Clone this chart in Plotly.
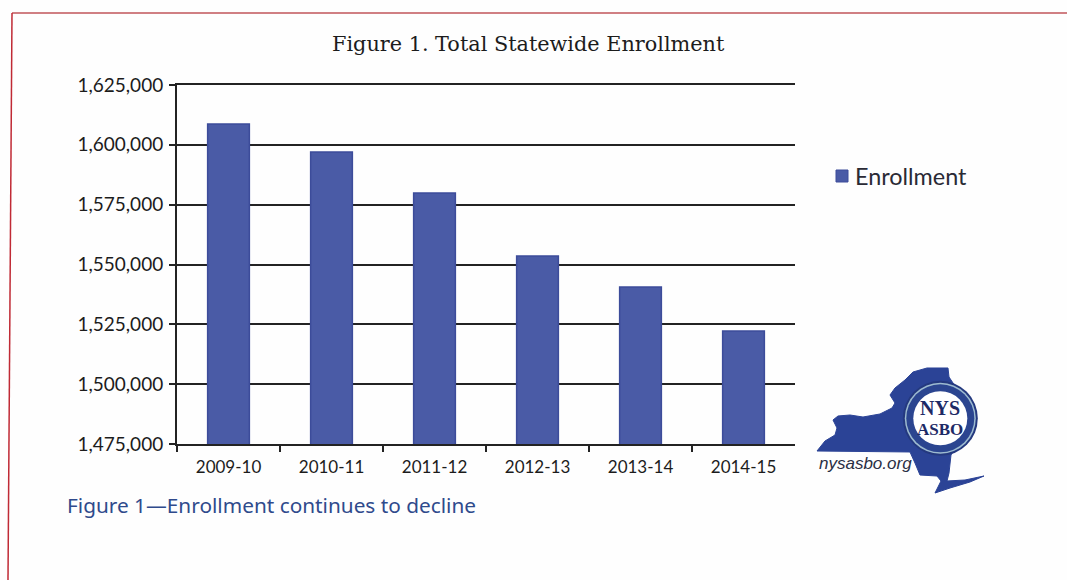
import plotly.graph_objects as go

# Statewide enrollment by school year
school_years = ["2009-10", "2010-11", "2011-12", "2012-13", "2013-14", "2014-15"]
enrollment = [1608700, 1597000, 1579900, 1553500, 1540600, 1522200]
series_name = "Enrollment"
y_ticks = [1475000, 1500000, 1525000, 1550000, 1575000, 1600000, 1625000]

W, H = 1067, 580
INK = "#232323"
BAR = "#4a5ba6"
BAR_EDGE = "#3c4c9a"


def px(x):
    return x / W


def py(y):
    return 1 - y / H


def page_path(points):
    """Closed SVG path from page-pixel points, in paper coordinates via the layout shape."""
    return "M" + " L".join(f"{px(x):.5f},{py(y):.5f}" for x, y in points) + " Z"


# Outline of New York State for the association's emblem
state_outline = [
    (817, 451), (825, 441), (835, 435), (837, 428), (833, 420), (838, 416), (850, 415),
    (863, 417), (880, 414), (892, 408), (895, 403), (890, 395), (895, 388), (905, 380),
    (913, 372), (927, 368), (948, 368), (949, 377), (953, 383), (975, 420), (951, 455),
    (949, 473), (947, 481), (965, 480), (984, 476), (970, 482), (950, 488), (935, 493),
    (941, 481), (937, 476), (920, 475), (915, 463), (910, 452),
]

fig = go.Figure(
    go.Bar(
        x=school_years,
        y=enrollment,
        name=series_name,
        width=0.405,
        marker=dict(color=BAR, line=dict(color=BAR_EDGE, width=1.5)),
        showlegend=False,
    )
)

shapes = [
    # Red page frame
    dict(type="line", xref="paper", yref="paper", x0=px(12), y0=py(13), x1=px(1067), y1=py(13),
         line=dict(color="#c0545a", width=1.5)),
    dict(type="line", xref="paper", yref="paper", x0=px(12), y0=py(13), x1=px(8), y1=py(580),
         line=dict(color="#c02a35", width=1.5)),
    # Legend swatch, set close to its label
    dict(type="rect", xref="paper", yref="paper", x0=px(836), x1=px(848), y0=py(182), y1=py(170),
         fillcolor=BAR, line=dict(color=BAR_EDGE, width=1)),
    # Emblem: state silhouette and round seal
    dict(type="path", xref="paper", yref="paper", path=page_path(state_outline),
         fillcolor="#2b4396", line=dict(color="#2b4396", width=1)),
]
for radius, colour in [(37.5, "#24397f"), (35.5, "#9dbbd0"), (34, "#2b4590"), (27, "#ffffff")]:
    shapes.append(
        dict(type="circle", xref="paper", yref="paper",
             x0=px(940.3 - radius), x1=px(940.3 + radius),
             y0=py(418.3 + radius), y1=py(418.3 - radius),
             fillcolor=colour, line=dict(width=0))
    )

annotations = [
    dict(text="Figure 1. Total Statewide Enrollment", x=px(528.5), y=py(44), xanchor="center",
         font=dict(family="DejaVu Serif", size=20.8, color="#1c1c1c")),
    dict(text=series_name, x=px(853), y=py(176), xanchor="left",
         font=dict(family="Lato", size=23.4, color="#2a2a35")),
    dict(text="Figure 1—Enrollment continues to decline", x=px(65), y=py(505), xanchor="left",
         font=dict(family="Noto Sans", size=20.8, color="#2f4a8c")),
    dict(text="<i>nysasbo.org</i>", x=px(817), y=py(463), xanchor="left",
         font=dict(family="Liberation Sans", size=17, color="#2a2f45")),
    dict(text="<b>NYS</b>", x=px(939.5), y=py(408), xanchor="center",
         font=dict(family="Liberation Serif", size=20, color="#1d2a66")),
    dict(text="<b>ASBO</b>", x=px(940.3), y=py(429), xanchor="center",
         font=dict(family="Liberation Serif", size=17, color="#1d2a66")),
]
for a in annotations:
    a.update(xref="paper", yref="paper", yanchor="middle", showarrow=False)

fig.update_layout(
    width=W,
    height=H,
    margin=dict(l=0, r=0, t=0, b=0, autoexpand=False),
    paper_bgcolor="#fefefe",
    plot_bgcolor="#fefefe",
    font=dict(family="Lato", color="#1c1c1c"),
    showlegend=False,
    shapes=shapes,
    annotations=annotations,
    xaxis=dict(
        domain=[px(177), px(795)],
        type="category",
        showgrid=False,
        showline=True,
        mirror=True,
        linecolor=INK,
        linewidth=2,
        ticks="outside",
        ticklen=6,
        tickwidth=2,
        tickcolor=INK,
        tickson="boundaries",
        ticklabelstandoff=7,
        tickfont=dict(family="Lato", size=17, color="#1c1c1c"),
    ),
    yaxis=dict(
        domain=[py(444), py(85)],
        range=[y_ticks[0], y_ticks[-1]],
        tickvals=y_ticks,
        tickformat=",",
        showgrid=True,
        gridcolor=INK,
        gridwidth=1.6,
        showline=True,
        linecolor=INK,
        linewidth=2,
        ticks="outside",
        ticklen=6,
        tickwidth=1.6,
        tickcolor=INK,
        ticklabelstandoff=2,
        tickfont=dict(family="Lato", size=19, color="#1c1c1c"),
    ),
)

fig.write_html("out.html")
